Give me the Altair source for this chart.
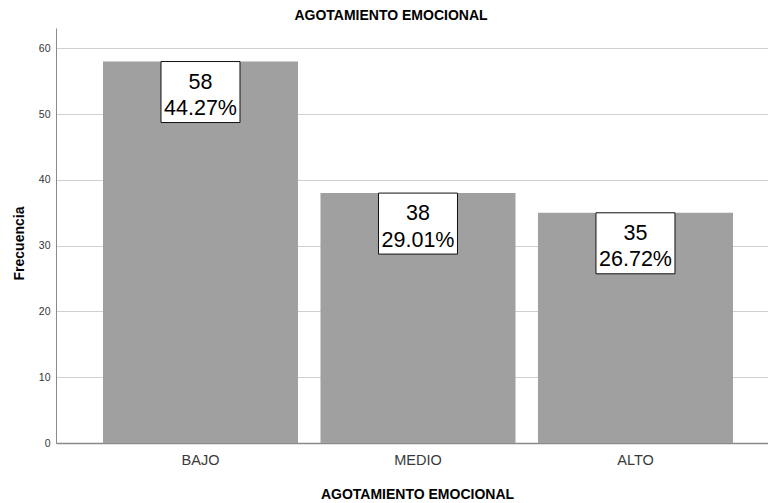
import altair as alt
import pandas as pd

# Frequency table for "Agotamiento emocional"
categories = ["BAJO", "MEDIO", "ALTO"]
counts = [58, 38, 35]
percents = ["44.27%", "29.01%", "26.72%"]
y_ticks = [0, 10, 20, 30, 40, 50, 60]

FONT = "Liberation Sans"

df = pd.DataFrame({
    "nivel": categories,
    "frecuencia": counts,
    "pct": percents,
})
df["etiqueta"] = df["frecuencia"].astype(str) + "\n" + df["pct"]

x_enc = alt.X(
    "nivel:N",
    sort=categories,
    scale=alt.Scale(paddingInner=0.1034, paddingOuter=0.1885, align=0.573),
    axis=alt.Axis(
        title="AGOTAMIENTO EMOCIONAL",
        titleFont=FONT, titleFontSize=14, titleFontWeight="bold", titleColor="#000000",
        titleX=361, titleY=55, titleBaseline="alphabetic", titleAnchor="start",
        titleAlign="center",
        labelFont=FONT, labelFontSize=14.5, labelColor="#3a3a3a", labelAngle=0,
        labelPadding=10, ticks=False,
        domainColor="#8a8a8a", domainWidth=1.5,
    ),
)

y_enc = alt.Y(
    "frecuencia:Q",
    scale=alt.Scale(domain=[0, 63.1], nice=False, zero=True),
    axis=alt.Axis(
        title="Frecuencia",
        titleFont=FONT, titleFontSize=14, titleFontWeight="bold", titleColor="#000000",
        titleX=-37, titleY=215, titleBaseline="middle", titleAlign="center",
        titleAngle=270,
        values=y_ticks,
        labelFont=FONT, labelFontSize=10.5, labelColor="#333333", labelPadding=6,
        ticks=False,
        domainColor="#8a8a8a", domainWidth=1,
        grid=True, gridColor="#d0d0d0", gridWidth=1.2,
    ),
)

base = alt.Chart(df).encode(x=x_enc)

bars = base.mark_bar(color="#a0a0a0").encode(y=y_enc)

boxes = base.mark_bar(
    width=79, fill="white", stroke="#111111", strokeWidth=1, y2Offset=61
).encode(y=y_enc, y2=alt.Y2("frecuencia:Q"))

labels = base.mark_text(
    font=FONT, fontSize=21.5, lineHeight=26.5, baseline="alphabetic",
    align="center", dy=27, color="#000000", lineBreak="\n",
).encode(y=y_enc, text="etiqueta:N")

chart = (
    alt.layer(bars, boxes, labels)
    .properties(
        width=712,
        height=415,
        title=alt.TitleParams(
            "AGOTAMIENTO EMOCIONAL",
            font=FONT, fontSize=14, fontWeight="bold", color="#000000",
            anchor="middle", frame="group", dx=-21, offset=5,
        ),
        autosize=alt.AutoSizeParams(type="none"),
        padding={"left": 56, "top": 28, "right": 0, "bottom": 60},
        background="white",
    )
    .configure_view(stroke=None)
)

chart.save("out.html", embed_options={"renderer": "svg", "actions": False})
